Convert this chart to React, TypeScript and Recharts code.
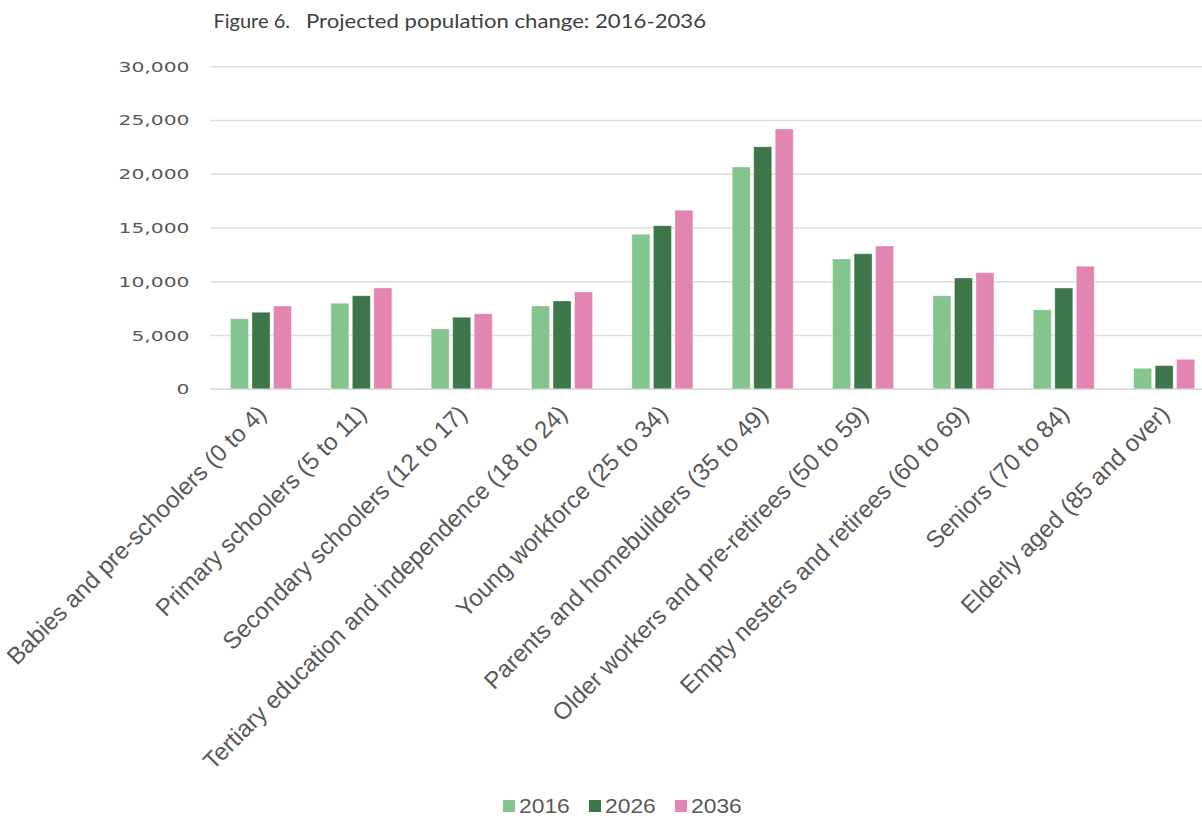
import { BarChart, Bar, XAxis, YAxis, CartesianGrid, Legend } from 'recharts';

const categories = [
  'Babies and pre-schoolers (0 to 4)',
  'Primary schoolers (5 to 11)',
  'Secondary schoolers (12 to 17)',
  'Tertiary education and independence (18 to 24)',
  'Young workforce (25 to 34)',
  'Parents and homebuilders (35 to 49)',
  'Older workers and pre-retirees (50 to 59)',
  'Empty nesters and retirees (60 to 69)',
  'Seniors (70 to 84)',
  'Elderly aged (85 and over)',
];

const pop2016 = [6570, 8000, 5610, 7750, 14420, 20670, 12120, 8700, 7400, 1950];
const pop2026 = [7160, 8700, 6700, 8210, 15220, 22560, 12610, 10350, 9420, 2200];
const pop2036 = [7750, 9420, 7030, 9050, 16650, 24210, 13330, 10850, 11440, 2790];

const yTicks = [0, 5000, 10000, 15000, 20000, 25000, 30000];

const SERIES = [
  { key: 'y2016', label: '2016', color: '#83c58c' }, // light green
  { key: 'y2026', label: '2026', color: '#3c7649' }, // dark green
  { key: 'y2036', label: '2036', color: '#e285b2' }, // pink
];

const GREY = '#595959';

const data = categories.map((name, i) => ({
  name,
  y2016: pop2016[i],
  y2026: pop2026[i],
  y2036: pop2036[i],
}));

function XTick({ x, y, payload }: any) {
  return (
    <g transform={`translate(${x + 7},${y + 26})`}>
      <text
        textAnchor="end"
        transform="rotate(-45)"
        fontSize={24}
        fontFamily="'Liberation Sans', Arial, sans-serif"
        fill={GREY}
      >
        {payload.value}
      </text>
    </g>
  );
}

function YTick({ x, y, payload }: any) {
  return (
    <g transform={`translate(${x},${y + 5}) scale(1.45,1)`}>
      <text textAnchor="end" fontSize={14} fontFamily="'DejaVu Sans', sans-serif" fill={GREY}>
        {payload.value.toLocaleString('en-US')}
      </text>
    </g>
  );
}

function LegendBox() {
  return (
    <div style={{ display: 'flex', height: 24, alignItems: 'center', paddingLeft: 503 }}>
      {SERIES.map((s) => (
        <div key={s.key} style={{ display: 'flex', alignItems: 'center', width: 86 }}>
          <div style={{ width: 12, height: 12, background: s.color, marginRight: 4 }} />
          <span
            style={{
              display: 'inline-block',
              fontFamily: "'Liberation Sans', Arial, sans-serif",
              fontSize: 19.5,
              color: GREY,
              transform: 'scaleX(1.17)',
              transformOrigin: 'left center',
              lineHeight: '24px',
            }}
          >
            {s.label}
          </span>
        </div>
      ))}
    </div>
  );
}

export default function App() {
  return (
    <div
      style={{
        position: 'absolute',
        left: 0,
        top: 0,
        width: 1202,
        height: 818,
        overflow: 'hidden',
        background: '#fff',
      }}
    >
      <svg width={720} height={40} style={{ position: 'absolute', left: 0, top: 0 }}>
        <text x={213.5} y={28} fontSize={19} fontFamily="Lato, 'Open Sans', sans-serif" fill="#404040"
          textLength={76.5} lengthAdjust="spacingAndGlyphs">
          Figure 6.
        </text>
        <text x={306} y={28} fontSize={19} fontFamily="Lato, 'Open Sans', sans-serif" fill="#404040"
          textLength={400} lengthAdjust="spacingAndGlyphs">
          Projected population change: 2016-2036
        </text>
      </svg>
      <BarChart
        width={1214}
        height={818}
        data={data}
        margin={{ top: 66.7, right: 0, left: 0, bottom: 0 }}
        barSize={18}
        barGap={3.5}
      >
        <CartesianGrid vertical={false} stroke="#dedede" strokeWidth={1.5} />
        <XAxis
          dataKey="name"
          height={404.7}
          interval={0}
          tickLine={false}
          tickSize={0}
          tickMargin={0}
          axisLine={{ stroke: '#d9d9d9', strokeWidth: 1.5 }}
          tick={<XTick />}
        />
        <YAxis
          width={210.5}
          domain={[0, 30000]}
          ticks={yTicks}
          axisLine={false}
          tickLine={false}
          tickSize={0}
          tickMargin={21}
          tick={<YTick />}
        />
        <Legend verticalAlign="bottom" content={<LegendBox />} wrapperStyle={{ left: 0, width: 1214 }} />
        {SERIES.map((s) => (
          <Bar
            key={s.key}
            dataKey={s.key}
            name={s.label}
            fill={s.color}
            stroke="#ffffff"
            strokeOpacity={0.35}
            strokeWidth={1}
            isAnimationActive={false}
          />
        ))}
      </BarChart>
    </div>
  );
}
